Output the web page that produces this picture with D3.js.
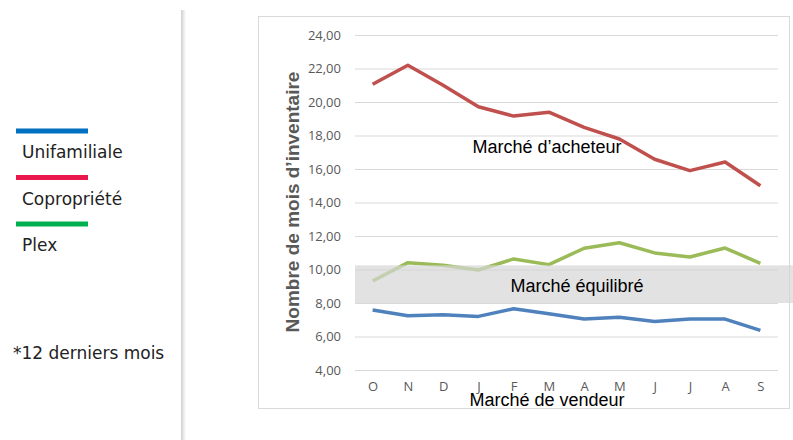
<!DOCTYPE html>
<html>
<head>
<meta charset="utf-8">
<script src="https://cdn.jsdelivr.net/npm/d3@7"></script>
<style>
  body { margin: 0; background: white; }
  svg { display: block; }
</style>
</head>
<body>
<svg id="display"></svg>
<script>
"use strict";

var months = ['O', 'N', 'D', 'J', 'F', 'M', 'A', 'M', 'J', 'J', 'A', 'S'];
var unifamiliale = [7.58, 7.24, 7.30, 7.20, 7.66, 7.36, 7.04, 7.15, 6.90, 7.04, 7.04, 6.37];
var copropriete = [21.06, 22.19, 21.00, 19.72, 19.16, 19.39, 18.49, 17.79, 16.58, 15.90, 16.42, 15.00];
var plex = [9.31, 10.41, 10.25, 9.97, 10.63, 10.29, 11.27, 11.60, 10.99, 10.75, 11.28, 10.37];
var yTicks = [4, 6, 8, 10, 12, 14, 16, 18, 20, 22, 24];
var equilibre = [8.0, 10.25];

var legendItems = [
  { name: 'Unifamiliale', color: '#0070c0' },
  { name: 'Copropriété', color: '#e8174c' },
  { name: 'Plex', color: '#00b050' }
];

var width = 793, height = 440;
var svg = d3.select('#display').attr('width', width).attr('height', height);

var plotLeft = 355, plotRight = 778, plotTop = 35, plotBottom = 370;

var x = d3.scalePoint()
  .domain(d3.range(months.length))
  .range([plotLeft, plotRight])
  .padding(0.5);

var y = d3.scaleLinear().domain([4, 24]).range([plotBottom, plotTop]);

// separator with shadow
var defs = svg.append('defs');
var grad = defs.append('linearGradient').attr('id', 'shadow');
grad.append('stop').attr('offset', '0%').attr('stop-color', '#d0d0d0');
grad.append('stop').attr('offset', '100%').attr('stop-color', '#ffffff');
svg.append('rect')
  .attr('x', 181).attr('y', 10).attr('width', 5).attr('height', 430)
  .attr('fill', 'url(#shadow)');

// chart frame
svg.append('rect')
  .attr('x', 258.5).attr('y', 16.5).attr('width', 531).attr('height', 392)
  .attr('fill', 'none').attr('stroke', '#d9d9d9').attr('stroke-width', 1);

// gridlines + y labels
var yAxis = d3.axisLeft(y)
  .tickValues(yTicks)
  .tickSize(-(plotRight - plotLeft))
  .tickPadding(14)
  .tickFormat(function(d){ return d3.format('.2f')(d).replace('.', ','); });

var gy = svg.append('g')
  .attr('transform', 'translate(' + plotLeft + ',0)')
  .call(yAxis);
gy.select('.domain').remove();
gy.selectAll('line').attr('stroke', '#d9d9d9');
gy.selectAll('text')
  .attr('fill', '#595959')
  .style('font-family', 'Open Sans, sans-serif')
  .style('font-size', '13px');

// x labels
var xAxis = d3.axisBottom(x)
  .tickSize(0)
  .tickPadding(12)
  .tickFormat(function(i){ return months[i]; });
var gx = svg.append('g')
  .attr('transform', 'translate(0,' + plotBottom + ')')
  .call(xAxis);
gx.select('.domain').remove();
gx.selectAll('text')
  .attr('fill', '#595959')
  .style('font-family', 'Open Sans, sans-serif')
  .style('font-size', '13px');

// axis title
svg.append('text')
  .attr('transform', 'translate(299,202) rotate(-90)')
  .attr('text-anchor', 'middle')
  .attr('fill', '#595959')
  .style('font-family', 'Liberation Sans, Arial, sans-serif')
  .style('font-weight', 'bold')
  .style('font-size', '19px')
  .text('Nombre de mois d’inventaire');

// lines
var line = d3.line()
  .x(function(d, i){ return x(i); })
  .y(function(d){ return y(d); });

var series = [
  { values: copropriete, color: '#c0504d' },
  { values: plex, color: '#9bbb59' },
  { values: unifamiliale, color: '#4f81bd' }
];

svg.selectAll('.series').data(series).enter().append('path')
  .attr('class', 'series')
  .attr('d', function(d){ return line(d.values); })
  .attr('fill', 'none')
  .attr('stroke', function(d){ return d.color; })
  .attr('stroke-width', 3.5)
  .attr('stroke-linejoin', 'round');

// balanced market band
svg.append('rect')
  .attr('x', plotLeft)
  .attr('y', y(equilibre[1]))
  .attr('width', width - plotLeft)
  .attr('height', y(equilibre[0]) - y(equilibre[1]))
  .attr('fill', '#d6d6d6')
  .attr('opacity', 0.7);

var labelStyle = function(sel) {
  sel.attr('text-anchor', 'middle')
    .attr('fill', '#000')
    .style('font-family', 'Liberation Sans, Arial, sans-serif')
    .style('font-size', '18px');
};

svg.append('text').attr('x', 577).attr('y', 292).call(labelStyle).text('Marché équilibré');
svg.append('text').attr('x', 547).attr('y', 153).call(labelStyle).text('Marché d’acheteur');
svg.append('text').attr('x', 547).attr('y', 406).call(labelStyle).text('Marché de vendeur');

// legend
var leg = svg.selectAll('.legend').data(legendItems).enter().append('g')
  .attr('class', 'legend')
  .attr('transform', function(d, i){ return 'translate(0,' + (i * 46.5) + ')'; });
leg.append('line')
  .attr('x1', 16).attr('x2', 88)
  .attr('y1', 131).attr('y2', 131)
  .attr('stroke', function(d){ return d.color; })
  .attr('stroke-width', 5);
leg.append('text')
  .attr('x', 22).attr('y', 158)
  .attr('fill', '#222')
  .style('font-family', 'DejaVu Sans, sans-serif')
  .style('font-size', '17px')
  .text(function(d){ return d.name; });

svg.append('text')
  .attr('x', 13).attr('y', 359)
  .attr('fill', '#222')
  .style('font-family', 'DejaVu Sans, sans-serif')
  .style('font-size', '17px')
  .text('*12 derniers mois');
</script>
</body>
</html>
